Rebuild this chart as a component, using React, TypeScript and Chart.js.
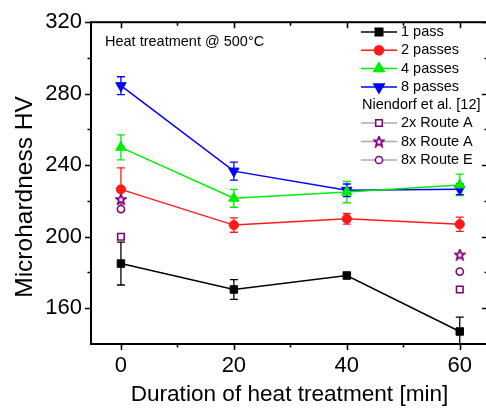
import React, { useEffect, useRef } from 'react';
import { Chart, registerables } from 'chart.js';
import { drawPoint } from 'chart.js/helpers';

Chart.register(...registerables);

const FONT = '"Liberation Sans", Arial, sans-serif';

// ---- data ----
const durations = [0, 20, 40, 60];
const onePass = [185, 170.5, 178.3, 147];
const onePassErr = [12, 5.5, 1.2, 8];
const twoPasses = [226.5, 206.5, 210, 207];
const twoPassesErr = [12, 4, 3, 4];
const fourPasses = [250, 221.5, 225, 229];
const fourPassesErr = [7, 5, 6, 6];
const eightPasses = [284.5, 236.7, 226, 226.5];
const eightPassesErr = [5, 5, 3.5, 3];

const refDurations = [0, 60];
const route2A = [200, 170.5];
const route8A = [221, 190];
const route8E = [215.5, 180.5];

const xTicks = [0, 20, 40, 60];
const xMinorTicks = [10, 30, 50];
const yTicks = [160, 200, 240, 280, 320];
const yMinorTicks = [180, 220, 260, 300];

const seriesLabels = ['1 pass', '2 passes', '4 passes', '8 passes'];
const refHeader = 'Niendorf et al. [12]';
const refLabels = ['2x Route A', '8x Route A', '8x Route E'];
const annotation = 'Heat treatment @ 500°C';
const xTitle = 'Duration of heat treatment [min]';
const yTitle = 'Microhardness HV';

const PURPLE = '#800080';

function makeStar(): HTMLCanvasElement {
  const c = document.createElement('canvas');
  c.width = 12;
  c.height = 12;
  const g = c.getContext('2d')!;
  const cx = 6, cy = 6.4, R = 5.2, r = 2.3;
  g.beginPath();
  for (let i = 0; i < 10; i++) {
    const rad = i % 2 === 0 ? R : r;
    const a = -Math.PI / 2 + (i * Math.PI) / 5;
    const px = cx + rad * Math.cos(a);
    const py = cy + rad * Math.sin(a);
    if (i === 0) g.moveTo(px, py);
    else g.lineTo(px, py);
  }
  g.closePath();
  g.fillStyle = '#fff';
  g.fill();
  g.strokeStyle = PURPLE;
  g.lineWidth = 1.8;
  g.stroke();
  return c;
}

const pts = (xs: number[], ys: number[]) => xs.map((x, i) => ({ x, y: ys[i] }));

const errorBarPlugin = {
  id: 'errorBars',
  beforeDatasetsDraw(chart: any) {
    const { ctx, chartArea } = chart;
    const xs = chart.scales.x;
    const ys = chart.scales.y;
    ctx.save();
    ctx.beginPath();
    ctx.rect(chartArea.left, chartArea.top, chartArea.right - chartArea.left, chartArea.bottom - chartArea.top);
    ctx.clip();
    chart.data.datasets.forEach((ds: any) => {
      if (!ds.errors) return;
      ctx.strokeStyle = ds.borderColor;
      ctx.lineWidth = 1.3;
      ds.data.forEach((p: any, i: number) => {
        const e = ds.errors[i];
        if (!e) return;
        const px = xs.getPixelForValue(p.x);
        const top = ys.getPixelForValue(p.y + e);
        const bot = ys.getPixelForValue(p.y - e);
        ctx.beginPath();
        ctx.moveTo(px, top);
        ctx.lineTo(px, bot);
        ctx.moveTo(px - 4, top);
        ctx.lineTo(px + 4, top);
        ctx.moveTo(px - 4, bot);
        ctx.lineTo(px + 4, bot);
        ctx.stroke();
      });
    });
    ctx.restore();
  },
};

const framePlugin = {
  id: 'frame',
  afterDatasetsDraw(chart: any) {
    const { ctx, chartArea } = chart;
    const { left, right, top, bottom } = chartArea;
    const xs = chart.scales.x;
    const ys = chart.scales.y;
    ctx.save();
    ctx.strokeStyle = '#000';
    ctx.lineWidth = 2;
    ctx.strokeRect(left, top, right - left, bottom - top);
    ctx.lineWidth = 1.6;
    ctx.beginPath();
    const xt = (v: number, len: number) => {
      const px = Math.round(xs.getPixelForValue(v)) + 0.5;
      ctx.moveTo(px, bottom);
      ctx.lineTo(px, bottom + len);
      ctx.moveTo(px, top);
      ctx.lineTo(px, top + len);
    };
    const yt = (v: number, len: number) => {
      const py = Math.round(ys.getPixelForValue(v)) + 0.5;
      ctx.moveTo(left, py);
      ctx.lineTo(left - len, py);
      ctx.moveTo(right, py);
      ctx.lineTo(right - len, py);
    };
    xTicks.forEach((v) => xt(v, 6));
    xMinorTicks.forEach((v) => xt(v, 3.5));
    yTicks.forEach((v) => yt(v, 6));
    yMinorTicks.forEach((v) => yt(v, 3.5));
    ctx.stroke();
    ctx.restore();
  },
};

const legendPlugin = {
  id: 'customLegend',
  afterDraw(chart: any) {
    const { ctx } = chart;
    ctx.save();
    // y-axis title
    ctx.save();
    ctx.font = `24.5px ${FONT}`;
    ctx.fillStyle = '#000';
    ctx.textAlign = 'center';
    ctx.textBaseline = 'alphabetic';
    ctx.translate(32, 197);
    ctx.rotate(-Math.PI / 2);
    ctx.fillText(yTitle, 0, 0);
    ctx.restore();

    ctx.font = `14.5px ${FONT}`;
    ctx.textBaseline = 'middle';
    ctx.textAlign = 'left';
    ctx.fillStyle = '#000';
    ctx.fillText(annotation, 105, 42);

    const x0 = 361, x1 = 397, tx = 401;
    const rowsY = [32, 50.3, 68.6, 87, 105, 123, 141.5, 160];
    const dss = chart.data.datasets;
    let row = 0;
    dss.forEach((ds: any, i: number) => {
      if (i === 4) {
        ctx.fillStyle = '#000';
        ctx.fillText(refHeader, 362, rowsY[row]);
        row++;
      }
      const y = rowsY[row];
      ctx.strokeStyle = ds.legendLine || ds.borderColor;
      ctx.lineWidth = 1.5;
      ctx.beginPath();
      ctx.moveTo(x0, y);
      ctx.lineTo(x1, y);
      ctx.stroke();
      ctx.fillStyle = ds.pointBackgroundColor;
      ctx.strokeStyle = ds.pointBorderColor;
      drawPoint(ctx, {
        pointStyle: ds.pointStyle,
        radius: ds.pointRadius,
        rotation: ds.pointRotation || 0,
        borderWidth: ds.pointBorderWidth,
      } as any, (x0 + x1) / 2, y);
      ctx.fillStyle = '#000';
      ctx.fillText(ds.label, tx, y);
      row++;
    });
    ctx.restore();
  },
};

export default function App() {
  const ref = useRef<HTMLCanvasElement>(null);
  useEffect(() => {
    const star = makeStar();
    const main = (label: string, ys: number[], err: number[], color: string, style: string, radius: number, rotation = 0) => ({
      label,
      data: pts(durations, ys),
      errors: err,
      showLine: true,
      borderColor: color,
      backgroundColor: color,
      borderWidth: 1.5,
      pointStyle: style,
      pointRadius: radius,
      pointRotation: rotation,
      pointBackgroundColor: color,
      pointBorderColor: color,
      pointBorderWidth: 1,
    });
    const ref2 = (label: string, ys: number[], style: any, radius: number) => ({
      label,
      data: pts(refDurations, ys),
      showLine: false,
      borderColor: PURPLE,
      legendLine: '#aaaaaa',
      backgroundColor: '#fff',
      pointStyle: style,
      pointRadius: radius,
      pointBackgroundColor: '#fff',
      pointBorderColor: PURPLE,
      pointBorderWidth: 1.6,
    });
    const datasets: any[] = [
      main(seriesLabels[0], onePass, onePassErr, '#000000', 'rect', 5.3),
      main(seriesLabels[1], twoPasses, twoPassesErr, '#ff1a1a', 'circle', 4.6),
      main(seriesLabels[2], fourPasses, fourPassesErr, '#00ee00', 'triangle', 6),
      main(seriesLabels[3], eightPasses, eightPassesErr, '#0000ff', 'triangle', 6, 180),
      ref2(refLabels[0], route2A, 'rect', 4.6),
      ref2(refLabels[1], route8A, star, 5),
      ref2(refLabels[2], route8E, 'circle', 3.6),
    ];
    const tickFont = { family: FONT, size: 22 };
    const chart = new Chart(ref.current!, {
      type: 'scatter',
      data: { datasets },
      options: {
        animation: false,
        responsive: false,
        devicePixelRatio: 1,
        layout: { padding: { top: 20, right: 12, left: 0, bottom: 0 } },
        plugins: { legend: { display: false }, tooltip: { enabled: false } },
        scales: {
          x: {
            type: 'linear',
            min: -5.3,
            max: 65,
            grid: { display: false, drawTicks: false },
            border: { display: false },
            ticks: { font: tickFont, color: '#000', padding: 9, maxRotation: 0 },
            afterBuildTicks: (s: any) => { s.ticks = xTicks.map((v) => ({ value: v })); },
            afterFit: (s: any) => { s.height = 66; },
            title: {
              display: true,
              text: xTitle,
              font: { family: FONT, size: 22.6 },
              color: '#000',
              padding: { top: 0, bottom: 2 },
            },
          },
          y: {
            type: 'linear',
            min: 140,
            max: 320,
            grid: { display: false, drawTicks: false },
            border: { display: false },
            ticks: { font: tickFont, color: '#000', padding: 9 },
            afterBuildTicks: (s: any) => { s.ticks = yTicks.map((v) => ({ value: v })); },
            afterFit: (s: any) => { s.width = 91; },
            title: { display: false },
          },
        },
      } as any,
      plugins: [errorBarPlugin, framePlugin, legendPlugin],
    });
    return () => chart.destroy();
  }, []);
  return (
    <div style={{ position: 'fixed', left: 0, top: 0, width: 486, height: 410, overflow: 'hidden', background: '#fff' }}>
      <canvas ref={ref} width={500} height={410} style={{ display: 'block' }} />
    </div>
  );
}
